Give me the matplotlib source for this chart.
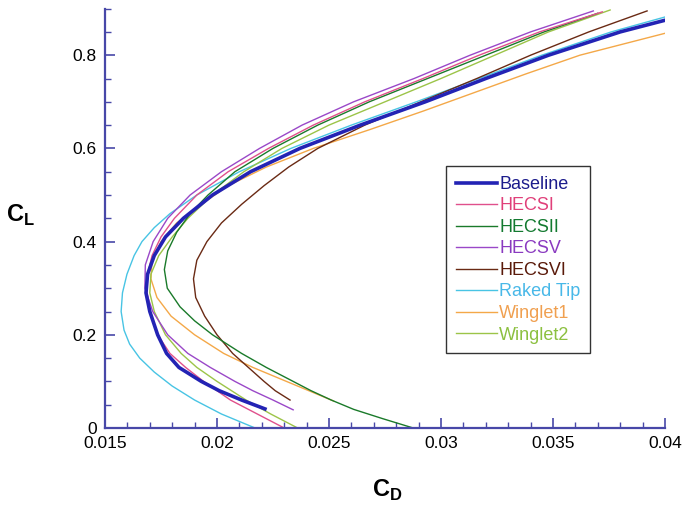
import matplotlib
matplotlib.use("Agg")
import matplotlib.pyplot as plt
from matplotlib.ticker import MultipleLocator, FixedLocator, FixedFormatter

plt.rcParams['font.family'] = ['Liberation Sans', 'DejaVu Sans']
plt.rcParams['mathtext.fontset'] = 'custom'
plt.rcParams['mathtext.rm'] = 'Liberation Sans'
plt.rcParams['mathtext.bf'] = 'Liberation Sans:bold'

# ---- data (C_D, C_L) ----
names = ["Baseline", "HECSI", "HECSII", "HECSV", "HECSVI", "Raked Tip", "Winglet1", "Winglet2"]
colors = ["#2323b4", "#e0508c", "#1a7a2a", "#9a48c8", "#6a2a14", "#48c4e4", "#f4a848", "#9cc448"]
text_colors = ["#1c1c8c", "#e0407a", "#137a30", "#8a3ac0", "#5a1a0a", "#48b8e8", "#f0a050", "#8cc040"]

baseline_cl = [0.041, 0.06, 0.08, 0.10, 0.13, 0.16, 0.20, 0.25, 0.29, 0.33, 0.37, 0.41, 0.45, 0.50,
               0.55, 0.60, 0.65, 0.70, 0.75, 0.80, 0.85, 0.875]
baseline_cd = [0.02214, 0.0211, 0.0201, 0.0193, 0.0183, 0.01775, 0.01735, 0.0170, 0.01683, 0.0169,
               0.0172, 0.0177, 0.0185, 0.0198, 0.0215, 0.0237, 0.0264, 0.0293, 0.0320, 0.0348,
               0.0380, 0.0400]

hecsi_cl = [0.0, 0.03, 0.06, 0.10, 0.13, 0.16, 0.20, 0.25, 0.29, 0.33, 0.37, 0.41, 0.45, 0.50,
            0.55, 0.60, 0.65, 0.70, 0.75, 0.80, 0.85, 0.893]
hecsi_cd = [0.0230, 0.0218, 0.0206, 0.0194, 0.0186, 0.0179, 0.01735, 0.0170, 0.01688, 0.0169,
            0.0171, 0.0175, 0.0181, 0.0191, 0.0205, 0.0223, 0.0243, 0.0266, 0.0292, 0.0317,
            0.0344, 0.0372]

hecsii_cl = [0.0, 0.02, 0.04, 0.06, 0.08, 0.10, 0.13, 0.16, 0.20, 0.23, 0.26, 0.30, 0.34, 0.38,
             0.42, 0.46, 0.50, 0.55, 0.60, 0.65, 0.70, 0.75, 0.80, 0.85, 0.89]
hecsii_cd = [0.02876, 0.0274, 0.0261, 0.0251, 0.0242, 0.0234, 0.0222, 0.0211, 0.0198, 0.0190,
             0.01835, 0.01778, 0.01765, 0.0178, 0.0182, 0.0188, 0.0196, 0.0208, 0.0225, 0.0245,
             0.0268, 0.0294, 0.0320, 0.0346, 0.0370]

hecsv_cl = [0.039, 0.06, 0.08, 0.10, 0.13, 0.16, 0.20, 0.25, 0.30, 0.35, 0.40, 0.45, 0.50, 0.55,
            0.60, 0.65, 0.70, 0.75, 0.80, 0.85, 0.895]
hecsv_cd = [0.0234, 0.0225, 0.0216, 0.0208, 0.0197, 0.0187, 0.0178, 0.01713, 0.01678, 0.0168,
            0.01715, 0.0178, 0.0188, 0.0202, 0.0219, 0.0238, 0.0261, 0.0288, 0.0313, 0.0340, 0.0368]

hecsvi_cl = [0.060, 0.08, 0.10, 0.13, 0.16, 0.20, 0.24, 0.28, 0.32, 0.36, 0.40, 0.44, 0.48, 0.52,
             0.56, 0.60, 0.65, 0.70, 0.75, 0.80, 0.85, 0.895]
hecsvi_cd = [0.02326, 0.0226, 0.0221, 0.0214, 0.0207, 0.0200, 0.01945, 0.01905, 0.01895, 0.0191,
             0.01955, 0.0202, 0.0211, 0.0221, 0.0232, 0.0245, 0.0266, 0.0291, 0.0316, 0.0340,
             0.0366, 0.0392]

raked_cl = [0.0, 0.03, 0.06, 0.09, 0.12, 0.15, 0.18, 0.21, 0.25, 0.29, 0.33, 0.37, 0.40, 0.43,
            0.46, 0.50, 0.55, 0.60, 0.65, 0.70, 0.75, 0.80, 0.85, 0.882]
raked_cd = [0.0217, 0.0202, 0.0190, 0.0180, 0.0172, 0.01655, 0.0161, 0.01585, 0.01572, 0.01578,
            0.01598, 0.0163, 0.01665, 0.0172, 0.0179, 0.0191, 0.0210, 0.0233, 0.0260, 0.0289,
            0.0317, 0.0345, 0.0376, 0.0400]

winglet1_cl = [0.058, 0.08, 0.10, 0.13, 0.16, 0.20, 0.24, 0.28, 0.32, 0.36, 0.40, 0.44, 0.48,
               0.52, 0.56, 0.60, 0.64, 0.68, 0.72, 0.76, 0.80, 0.847]
winglet1_cd = [0.0252, 0.0241, 0.0231, 0.0216, 0.0203, 0.0190, 0.01795, 0.01732, 0.01705, 0.0171,
               0.0175, 0.0182, 0.0193, 0.0205, 0.0222, 0.0243, 0.0268, 0.0292, 0.0315, 0.0338,
               0.0362, 0.0400]

winglet2_cl = [0.0, 0.03, 0.06, 0.10, 0.13, 0.16, 0.20, 0.25, 0.29, 0.33, 0.37, 0.41, 0.45, 0.50,
               0.55, 0.60, 0.65, 0.70, 0.75, 0.80, 0.85, 0.897]
winglet2_cd = [0.0236, 0.0224, 0.0213, 0.0200, 0.0191, 0.0184, 0.0177, 0.0172, 0.0170, 0.01705,
               0.0174, 0.0180, 0.0187, 0.0198, 0.0212, 0.0229, 0.0250, 0.0275, 0.0300, 0.0324,
               0.0348, 0.03755]

series_cd = [baseline_cd, hecsi_cd, hecsii_cd, hecsv_cd, hecsvi_cd, raked_cd, winglet1_cd, winglet2_cd]
series_cl = [baseline_cl, hecsi_cl, hecsii_cl, hecsv_cl, hecsvi_cl, raked_cl, winglet1_cl, winglet2_cl]
widths = [2.6, 1.0, 1.0, 1.0, 1.0, 1.0, 1.0, 1.0]

xticks = [0.015, 0.02, 0.025, 0.03, 0.035, 0.04]
xticklabels = ["0.015", "0.02", "0.025", "0.03", "0.035", "0.04"]
yticks = [0, 0.2, 0.4, 0.6, 0.8]
yticklabels = ["0", "0.2", "0.4", "0.6", "0.8"]

# ---- figure ----
fig = plt.figure(figsize=(6.85, 5.08), dpi=100)
ax = fig.add_axes([105/685, 1 - 428/508, 560/685, (428 - 8.6)/508])

order = [5, 6, 7, 4, 2, 1, 3, 0]
lines = {}
for i in order:
    ln, = ax.plot(series_cd[i], series_cl[i], color=colors[i], lw=widths[i],
                  label=names[i], solid_joinstyle='round')
    lines[i] = ln

ax.set_xlim(0.015, 0.04)
ax.set_ylim(0, 0.9)

spine_c = "#4848a8"
for s in ["top", "right"]:
    ax.spines[s].set_visible(False)
for s in ["left", "bottom"]:
    ax.spines[s].set_color(spine_c)
    ax.spines[s].set_linewidth(1.6)

ax.xaxis.set_major_locator(FixedLocator(xticks))
ax.xaxis.set_major_formatter(FixedFormatter(xticklabels))
ax.xaxis.set_minor_locator(MultipleLocator(0.001))
ax.yaxis.set_major_locator(FixedLocator(yticks))
ax.yaxis.set_major_formatter(FixedFormatter(yticklabels))
ax.yaxis.set_minor_locator(MultipleLocator(0.05))
ax.tick_params(which='major', direction='in', length=7, width=1.2, color=spine_c,
               labelsize=12.5, pad=6)
ax.tick_params(which='minor', direction='in', length=4, width=1.0, color=spine_c)

fig.text(20/685, 1 - 215/508, r'$\mathbf{C}_{\mathbf{L}}$', fontsize=17,
         ha='center', va='center')
fig.text(387/685, 1 - 490/508, r'$\mathbf{C}_{\mathbf{D}}$', fontsize=17,
         ha='center', va='center')

handles = [lines[i] for i in range(8)]
leg = ax.legend(handles, names, loc='upper left',
                bbox_to_anchor=((446 - 105)/560, (428 - 166)/419.4),
                borderaxespad=0, fontsize=13, frameon=True, fancybox=False,
                edgecolor='black', handlelength=2.3, handletextpad=0.1,
                labelspacing=0.25, borderpad=0.55)
leg.get_frame().set_linewidth(1.0)
for txt, c in zip(leg.get_texts(), text_colors):
    txt.set_color(c)

fig.savefig("out.png", dpi=100)
